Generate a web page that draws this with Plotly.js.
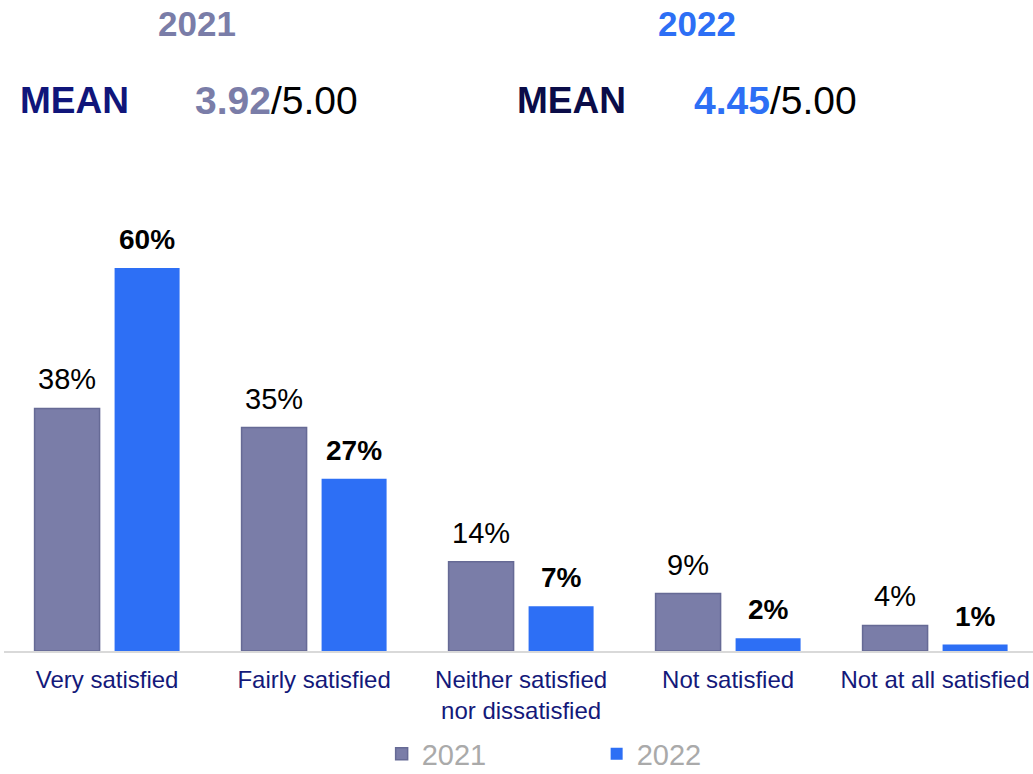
<!DOCTYPE html>
<html>
<head>
<meta charset="utf-8">
<script src="https://cdn.plot.ly/plotly-3.0.1.min.js"></script>
<style>html,body{margin:0;padding:0;background:#fff;}#chart{width:1033px;height:774px;}</style>
</head>
<body>
<div id="chart"></div>
<script>
const categories = ["Very satisfied", "Fairly satisfied", "Neither satisfied<br>nor dissatisfied", "Not satisfied", "Not at all satisfied"];
const values2021 = [38, 35, 14, 9, 4];
const values2022 = [60, 27, 7, 2, 1];
const seriesNames = ["2021", "2022"];
const means = ["3.92", "4.45"];
const meanMax = "5.00";

const c2021 = "#7a7da8";
const c2022 = "#2d6ff5";
const FONT = "Liberation Sans, Arial, sans-serif";

const traces = [
  {
    type: "bar", name: seriesNames[0], x: categories, y: values2021,
    marker: {color: c2021, line: {color: "#666a95", width: 1.5}},
    hoverinfo: "skip"
  },
  {
    type: "bar", name: seriesNames[1], x: categories, y: values2022,
    marker: {color: c2022, line: {width: 0}},
    hoverinfo: "skip"
  }
];

const annotations = [];
categories.forEach((c, i) => {
  annotations.push({
    x: c, y: values2021[i], xref: "x", yref: "y", xshift: -40, yshift: 11,
    yanchor: "bottom", showarrow: false, text: values2021[i] + "%",
    font: {family: FONT, size: 29, color: "#000"}
  });
  annotations.push({
    x: c, y: values2022[i], xref: "x", yref: "y", xshift: 40, yshift: 11,
    yanchor: "bottom", showarrow: false, text: "<b>" + values2022[i] + "%</b>",
    font: {family: FONT, size: 28, color: "#000"}
  });
});

// Header
annotations.push(
  {xref: "paper", yref: "paper", x: 0.1876, y: 1.2515, xanchor: "center", yanchor: "middle", showarrow: false,
   text: "<b>" + seriesNames[0] + "</b>", font: {family: FONT, size: 35, color: c2021}},
  {xref: "paper", yref: "paper", x: 0.6735, y: 1.2515, xanchor: "center", yanchor: "middle", showarrow: false,
   text: "<b>" + seriesNames[1] + "</b>", font: {family: FONT, size: 35, color: c2022}},
  {xref: "paper", yref: "paper", x: 0.0136, y: 1.0998, xanchor: "left", yanchor: "middle", showarrow: false,
   text: "<b>MEAN</b>", font: {family: FONT, size: 37, color: "#10157a"}},
  {xref: "paper", yref: "paper", x: 0.4966, y: 1.0998, xanchor: "left", yanchor: "middle", showarrow: false,
   text: "<b>MEAN</b>", font: {family: FONT, size: 37, color: "#0a0c48"}},
  {xref: "paper", yref: "paper", x: 0.1837, y: 1.0998, xanchor: "left", yanchor: "middle", showarrow: false,
   text: "<b><span style='color:" + c2021 + "'>" + means[0] + "</span></b>/" + meanMax, font: {family: FONT, size: 39, color: "#000"}},
  {xref: "paper", yref: "paper", x: 0.6686, y: 1.0998, xanchor: "left", yanchor: "middle", showarrow: false,
   text: "<b><span style='color:" + c2022 + "'>" + means[1] + "</span></b>/" + meanMax, font: {family: FONT, size: 39, color: "#000"}}
);

const layout = {
  width: 1033, height: 774,
  margin: {l: 4, r: 0, t: 150, b: 123, pad: 0, autoexpand: false},
  paper_bgcolor: "#fff", plot_bgcolor: "#fff",
  barmode: "group", bargap: 0.227, bargroupgap: 0.1875,
  xaxis: {
    type: "category", range: [-0.498, 4.473], showgrid: false, zeroline: false,
    showline: true, linecolor: "#d9d9d9", linewidth: 2, ticks: "",
    tickfont: {family: FONT, size: 24, color: "#14197a"}, ticklabelstandoff: 6
  },
  yaxis: {range: [0, 78.5], visible: false, showgrid: false, zeroline: false},
  showlegend: true,
  legend: {
    orientation: "h", x: 0.367, xanchor: "left", y: -0.2056, yanchor: "middle",
    font: {family: FONT, size: 29, color: "#aaaaaa"}, entrywidth: 170, entrywidthmode: "pixels",
    bgcolor: "rgba(0,0,0,0)", traceorder: "normal", tracegroupgap: 0
  },
  annotations: annotations
};

Plotly.newPlot("chart", traces, layout, {displayModeBar: false, staticPlot: true});
</script>
</body>
</html>
